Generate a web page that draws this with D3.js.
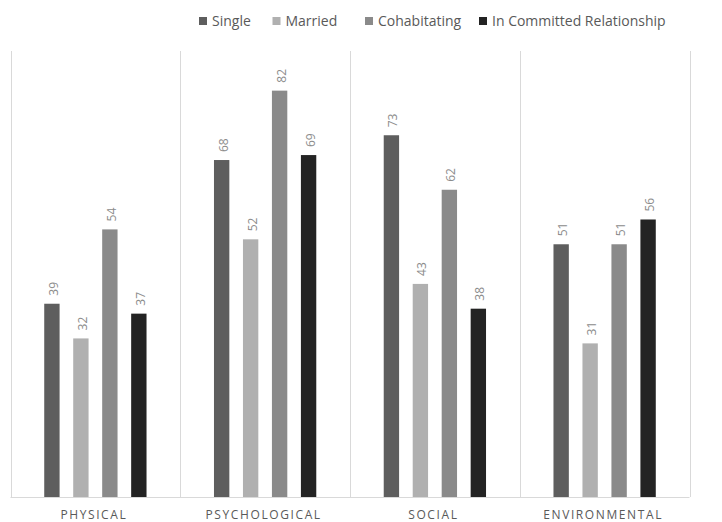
<!DOCTYPE html>
<html><head><meta charset="utf-8">
<script src="https://cdn.jsdelivr.net/npm/d3@7"></script>
<style>body{margin:0;background:#fff}svg{display:block}</style>
</head><body>
<svg id="c" width="722" height="522"></svg>
<script>
const categories = ["PHYSICAL","PSYCHOLOGICAL","SOCIAL","ENVIRONMENTAL"];
const seriesNames = ["Single","Married","Cohabitating","In Committed Relationship"];
const single = [39,68,73,51];
const married = [32,52,43,31];
const cohabitating = [54,82,62,51];
const committed = [37,69,38,56];
const seriesValues = [single, married, cohabitating, committed];
const colors = ["#5e5e5e","#b0b0b0","#8a8a8a","#232323"];

const svg = d3.select("#c");
const font = "'Open Sans', 'Noto Sans', sans-serif";
const x0 = d3.scaleBand().domain(categories).range([10.5, 689.5]).padding(0);
const x1 = d3.scaleBand().domain(seriesNames).range([0, 102.3]).paddingInner(0.47).paddingOuter(0);
const y = d3.scaleLinear().domain([0,90]).range([497, 51]);

// vertical gridlines (category separators)
const bounds = categories.map(c => x0(c)).concat([x0.range()[1]]);
svg.append("g").selectAll("line").data(bounds).join("line")
  .attr("x1", d=>Math.round(d)+0.5).attr("x2", d=>Math.round(d)+0.5)
  .attr("y1", y(90)).attr("y2", y(0))
  .attr("stroke","#d9d9d9").attr("stroke-width",1);

// baseline
svg.append("line").attr("x1", x0.range()[0]).attr("x2", x0.range()[1])
  .attr("y1", y(0)+0.5).attr("y2", y(0)+0.5).attr("stroke","#d9d9d9");

const groups = svg.append("g").selectAll("g").data(categories).join("g")
  .attr("transform", c => `translate(${x0(c) + (x0.bandwidth()-102.3)/2},0)`);

groups.each(function(c, ci){
  const g = d3.select(this);
  const data = seriesNames.map((s, si) => ({s, si, v: seriesValues[si][ci]}));
  g.selectAll("rect").data(data).join("rect")
    .attr("x", d => x1(d.s)).attr("width", x1.bandwidth())
    .attr("y", d => y(d.v)).attr("height", d => y(0)-y(d.v))
    .attr("fill", d => colors[d.si]);
  g.selectAll("text").data(data).join("text")
    .attr("transform", d => `translate(${x1(d.s)+x1.bandwidth()/2+6},${y(d.v)-8}) rotate(-90)`)
    .attr("font-family", font).attr("font-size", 12).attr("fill","#8c8c8c")
    .text(d => d.v);
});

// category axis labels
svg.append("g").selectAll("text").data(categories).join("text")
  .attr("x", c => x0(c)+x0.bandwidth()/2-1.5).attr("y", 519)
  .attr("text-anchor","middle").attr("font-family", font).attr("font-size", 12)
  .attr("letter-spacing", 1.6).attr("fill","#595959")
  .text(c => c);

// legend
const legendX = [199, 272.5, 365, 479];
const lg = svg.append("g").selectAll("g").data(seriesNames).join("g")
  .attr("transform", (d,i) => `translate(${legendX[i]},21)`);
lg.append("rect").attr("x",0).attr("y",-4).attr("width",8).attr("height",8)
  .attr("fill",(d,i)=>colors[i]);
lg.append("text").attr("x",13).attr("y",5).attr("font-family", font)
  .attr("font-size", 14).attr("fill","#595959").text(d=>d);
</script>
</body></html>
